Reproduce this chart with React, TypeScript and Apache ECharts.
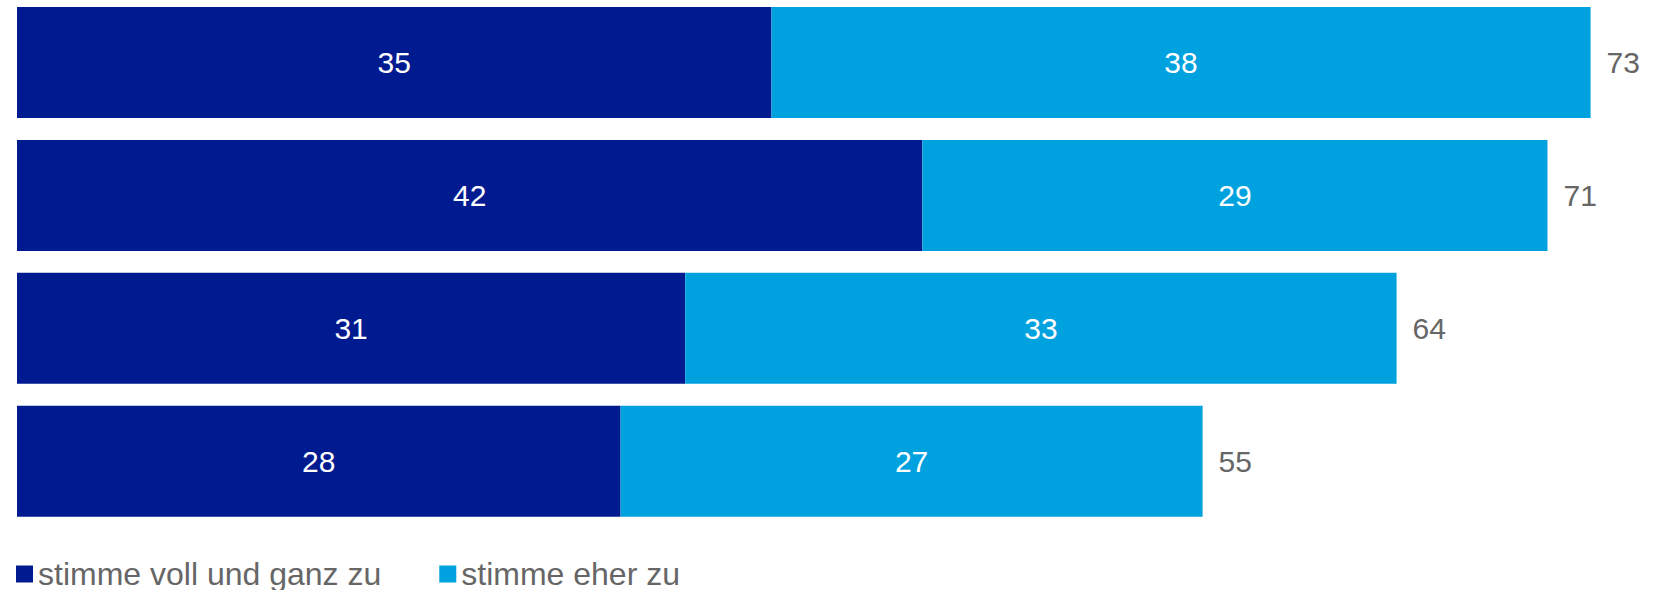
import React, { useEffect, useRef } from "react";
import * as echarts from "echarts";

const categories = ["A", "B", "C", "D"];
const vollUndGanz = [35, 42, 31, 28];
const eherZu = [38, 29, 33, 27];
const totals = [73, 71, 64, 55];
const seriesNames = ["stimme voll und ganz zu", "stimme eher zu"];

const DARK = "#001A8F";
const LIGHT = "#00A1DF";
const FONT = "Liberation Sans, Arial, sans-serif";
const OFFSET = 20;

export default function App() {
  const ref = useRef<HTMLDivElement>(null);
  useEffect(() => {
    if (!ref.current) return;
    const chart = echarts.init(ref.current, null, { renderer: "svg" });
    chart.setOption({
      animation: false,
      textStyle: { fontFamily: FONT },
      grid: { left: 17, top: OFFSET - 3.95, width: 1616.7, height: 531.6, containLabel: false },
      xAxis: {
        type: "value",
        min: 0,
        max: 75,
        show: false,
        splitLine: { show: false },
      },
      yAxis: {
        type: "category",
        data: categories,
        inverse: true,
        show: false,
      },
      legend: {
        left: 11,
        top: OFFSET + 553,
        itemWidth: 17,
        itemHeight: 17,
        itemGap: 58,
        icon: "rect",
        data: seriesNames,
        textStyle: { fontSize: 32, color: "#666666", fontFamily: FONT },
      },
      series: [
        {
          name: seriesNames[0],
          type: "bar",
          stack: "s",
          barWidth: 111,
          data: vollUndGanz,
          itemStyle: { color: DARK },
          label: { show: true, position: "inside", color: "#ffffff", fontSize: 30, fontFamily: FONT },
        },
        {
          name: seriesNames[1],
          type: "bar",
          stack: "s",
          barWidth: 111,
          data: eherZu,
          itemStyle: { color: LIGHT },
          label: { show: true, position: "inside", color: "#ffffff", fontSize: 30, fontFamily: FONT },
        },
        {
          name: "total",
          type: "bar",
          barWidth: 111,
          barGap: "-100%",
          data: totals,
          z: 1,
          itemStyle: { color: "rgba(0,0,0,0)" },
          label: { show: true, position: "right", distance: 16, color: "#666666", fontSize: 30, fontFamily: FONT },
          silent: true,
        },
      ],
    });
    return () => chart.dispose();
  }, []);
  return (
    <div style={{ position: "absolute", left: 0, top: 0, width: 1670, height: 590, overflow: "hidden" }}>
      <div ref={ref} style={{ position: "absolute", left: 0, top: -OFFSET, width: 1670, height: 590 + OFFSET }} />
    </div>
  );
}
